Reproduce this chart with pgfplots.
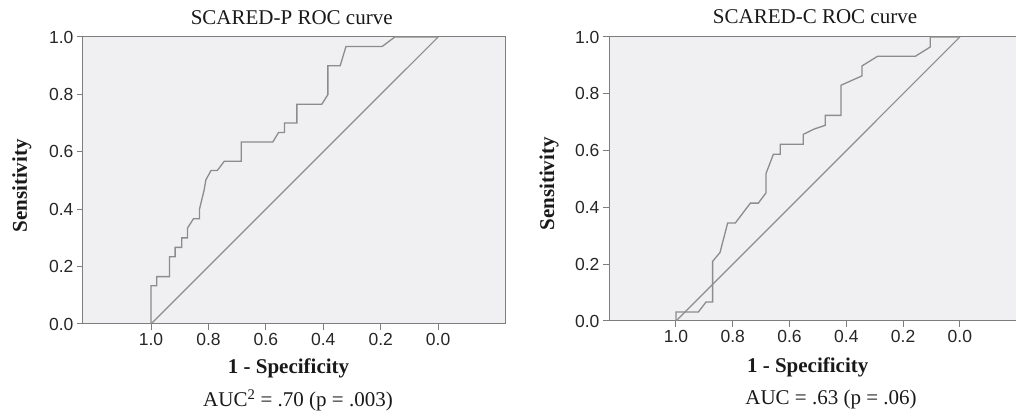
\documentclass[border=0pt]{standalone}
\usepackage{pgfplots}
\pgfplotsset{compat=1.18}
\usepackage{fontspec}
\setmainfont{Liberation Serif}
\setsansfont{Liberation Sans}
\definecolor{bgc}{RGB}{240,240,242}
\definecolor{curvec}{RGB}{140,140,140}
\definecolor{axc}{RGB}{125,125,125}
\pgfplotsset{
  rocaxis/.style={
    scale only axis,
    anchor=south west,
    x dir=reverse,
    ymin=0, ymax=1,
    xtick={0,0.2,0.4,0.6,0.8,1.0},
    ytick={0,0.2,0.4,0.6,0.8,1.0},
    xtick pos=bottom, ytick pos=left,
    tick align=outside,
    major tick length=6pt,
    tick style={draw=axc, line width=1pt},
    axis line style={draw=axc, line width=1pt},
    axis background/.style={fill=bgc},
    /pgf/number format/assume math mode=true,
    /pgf/number format/.cd, fixed, fixed zerofill, precision=1,
    /pgfplots/.cd,
    ticklabel style={font=\fontsize{17.5}{18}\selectfont\sffamily, text=black!85},
  }
}
\begin{document}
\begin{tikzpicture}[x=1pt,y=1pt]
\begin{axis}[rocaxis, at={(83pt,90pt)}, width=422pt, height=287pt,
  xmin=-0.233, xmax=1.237]
\addplot[curvec, line width=1.2pt] coordinates {(1,0) (0,1)};
\addplot[curvec, line width=1.3pt] coordinates {
(1.0,0) (1.0,0.133) (0.980,0.133) (0.980,0.165) (0.936,0.165) (0.936,0.234)
(0.916,0.234) (0.916,0.267) (0.893,0.267) (0.893,0.300) (0.873,0.300)
(0.873,0.334) (0.852,0.367) (0.831,0.367) (0.831,0.401) (0.815,0.467)
(0.809,0.502) (0.791,0.535) (0.769,0.535) (0.745,0.567) (0.686,0.567)
(0.686,0.634) (0.576,0.634) (0.556,0.667) (0.535,0.667) (0.535,0.700)
(0.492,0.700) (0.492,0.766) (0.405,0.766) (0.384,0.799) (0.384,0.900)
(0.341,0.900) (0.321,0.967) (0.195,0.967) (0.151,1.0) (0,1.0)};
\end{axis}
\begin{axis}[rocaxis, at={(609pt,93pt)}, width=417pt, height=284pt,
  xmin=-0.233, xmax=1.236]
\addplot[curvec, line width=1.2pt] coordinates {(1,0) (0,1)};
\addplot[curvec, line width=1.3pt] coordinates {
(1.0,0) (1.0,0.032) (0.921,0.032) (0.894,0.067) (0.871,0.067) (0.871,0.210)
(0.845,0.241) (0.818,0.345) (0.791,0.345) (0.738,0.415) (0.710,0.415)
(0.683,0.451) (0.683,0.519) (0.657,0.587) (0.633,0.587) (0.633,0.622)
(0.552,0.622) (0.552,0.657) (0.513,0.676) (0.474,0.689) (0.474,0.724)
(0.419,0.724) (0.419,0.830) (0.345,0.863) (0.345,0.898) (0.290,0.932)
(0.157,0.932) (0.104,0.965) (0.104,1.0) (0,1.0)};
\end{axis}
\begin{scope}[every node/.style={inner sep=0pt, text=black!90}]
\node[anchor=base] at (291.7,389.7) {\fontsize{21}{24}\selectfont SCARED-P ROC curve};
\node[anchor=base] at (815,390) {\fontsize{21}{24}\selectfont SCARED-C ROC curve};
\node[anchor=base] at (288.5,40) {\fontsize{21}{24}\selectfont\bfseries 1 - Specificity};
\node[anchor=base] at (807.7,41) {\fontsize{21}{24}\selectfont\bfseries 1 - Specificity};
\node[anchor=base] at (298,7) {\fontsize{21}{24}\selectfont AUC\textsuperscript{2} = .70 (p = .003)};
\node[anchor=base] at (831,9) {\fontsize{21}{24}\selectfont AUC = .63 (p = .06)};
\node[anchor=base, rotate=90] at (27,228) {\fontsize{21}{24}\selectfont\bfseries Sensitivity};
\node[anchor=base, rotate=90] at (554,230) {\fontsize{21}{24}\selectfont\bfseries Sensitivity};
\end{scope}
\pgfresetboundingbox
\useasboundingbox (0,0) rectangle (1016,414);
\end{tikzpicture}
\end{document}
